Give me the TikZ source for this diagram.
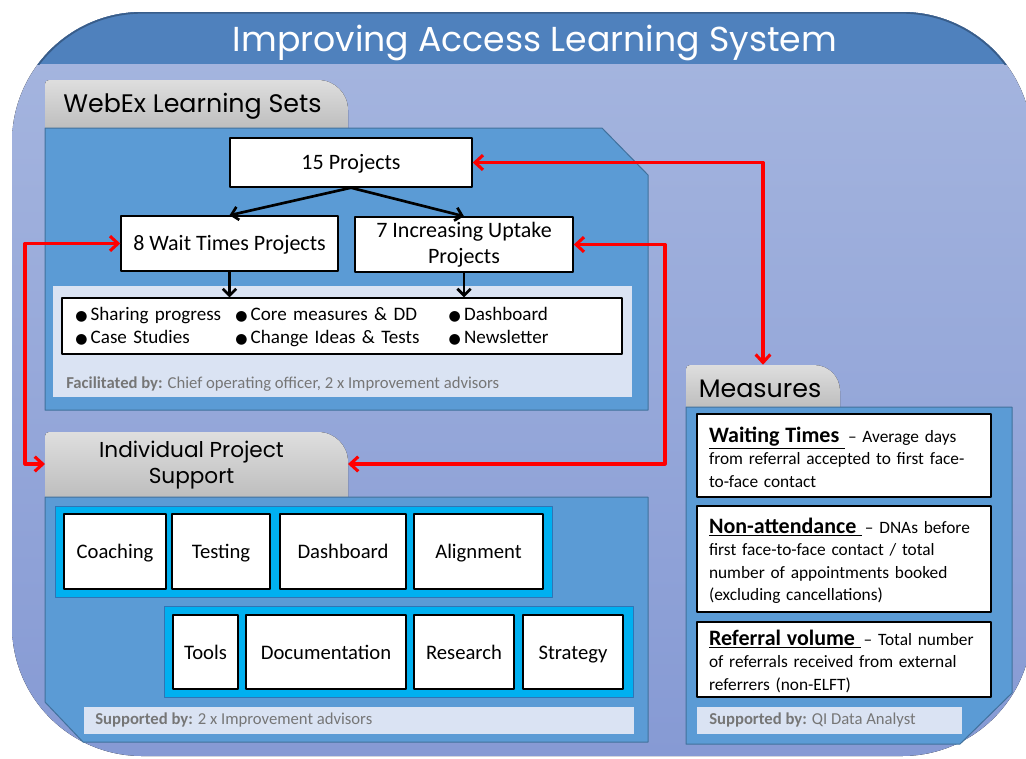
\documentclass[tikz,border=0pt]{standalone}
\usepackage{fontspec}
\setmainfont{Carlito}
\newfontfamily\headfont{Poppins}
\newfontfamily\symfont{DejaVu Sans}
\usetikzlibrary{arrows.meta}
\definecolor{titleblue}{RGB}{79,129,189}
\definecolor{edgeblue}{RGB}{56,93,138}
\definecolor{bgtop}{RGB}{166,182,223}
\definecolor{bgbot}{RGB}{134,154,212}
\definecolor{panelblue}{RGB}{91,155,213}
\definecolor{paneledge}{RGB}{65,113,156}
\definecolor{tabtop}{RGB}{222,222,222}
\definecolor{tabbot}{RGB}{190,190,190}
\definecolor{lightbox}{RGB}{218,227,243}
\definecolor{cyanfill}{RGB}{0,176,240}
\definecolor{cyanedge}{RGB}{46,117,182}
\definecolor{notegrey}{RGB}{118,118,118}
\definecolor{linkred}{RGB}{255,0,0}
\newcommand{\blt}{{\symfont\fontsize{10.5}{12}\selectfont ●}\,}
\begin{document}
\begin{tikzpicture}[x=0.75pt,y=-0.75pt,line join=round,
  geom/.style n args={4}{minimum width={((#3)-(#1))*0.75pt},minimum height={((#4)-(#2))*0.75pt},at={({((#1)+(#3))/2},{((#2)+(#4))/2})}},
  panel/.style={fill=panelblue,draw=paneledge,line width=0.75pt},
  tabshape/.style={top color=tabtop,bottom color=tabbot,draw=none},
  tabtext/.style={draw=none,inner sep=0pt,font=\headfont\fontsize{19}{25}\selectfont,text=black,align=center},
  wbox/.style={fill=white,draw=black,line width=1.1pt,inner sep=0pt},
  cbox/.style={fill=cyanfill,draw=cyanedge,line width=0.6pt,inner sep=0pt},
  lbox/.style={fill=lightbox,draw=none,inner sep=0pt},
  note/.style={font=\fontsize{12.5}{15}\selectfont,text=notegrey,anchor=west,inner sep=0pt},
  topfont/.style={font=\fontsize{16.5}{19.5}\selectfont},
  oneline/.style={text height=13pt,text depth=2pt},
  ifont/.style={font=\fontsize{15.5}{18}\selectfont,text height=12.5pt,text depth=2pt},
  mfont/.style={font=\fontsize{13}{16.9}\selectfont,text width=202.5pt,align=left},
  redlink/.style={draw=linkred,line width=2.3pt,arrows={Straight Barb[length=6pt,width=11pt]-Straight Barb[length=6pt,width=11pt]}},
  blklink/.style={draw=black,line width=2pt,arrows={-Straight Barb[length=5pt,width=10pt]}}]
\useasboundingbox (0,0) rectangle (1026,758);
\clip (0,0) rectangle (1026,758);
\fill[white] (0,0) rectangle (1026,758);
% outer frame
\fill[top color=bgtop,bottom color=bgbot,rounded corners=97.5pt] (12,12) rectangle (1032,756);
\begin{scope}
  \clip[rounded corners=97.5pt] (12,12) rectangle (1032,756);
  \fill[titleblue] (0,0) rectangle (1040,64);
  \begin{scope}
    \clip (0,0) rectangle (1040,64);
    \draw[edgeblue,line width=2.5pt,rounded corners=97.5pt] (12,12) rectangle (1032,756);
  \end{scope}
\end{scope}
\node[font=\headfont\fontsize{26}{30}\selectfont,text=white] (title) at (535,43) {Improving Access Learning System};
% tabs
\fill[tabshape] (45,128) -- (45,84) .. controls (45,81.8) and (46.8,80) .. (49,80) -- (318,80) .. controls (334.6,80) and (348,93.4) .. (348,110) -- (348,128) -- cycle;
\fill[tabshape] (45,497) -- (45,436) .. controls (45,433.8) and (46.8,432) .. (49,432) -- (318,432) .. controls (334.6,432) and (348,445.4) .. (348,462) -- (348,497) -- cycle;
\fill[tabshape] (686,407) -- (686,369) .. controls (686,366.8) and (687.8,365) .. (690,365) -- (814,365) .. controls (828.4,365) and (840,376.6) .. (840,391) -- (840,407) -- cycle;
\node[tabtext,geom={45}{84}{340}{128}] (webtab) {WebEx Learning Sets};
\node[tabtext,font=\headfont\fontsize{16.2}{19.5}\selectfont,geom={40}{432}{343}{499}] (ipstab) {Individual Project\\Support};
\node[tabtext,geom={686}{371}{834}{407}] (mtabtext) {Measures};
\node[draw=none,inner sep=0pt,geom={686}{365}{840}{407}] (mtab) {};
\coordinate (ipsw) at (45,464);
\coordinate (ipse) at (348,464);
% panels
\filldraw[panel] (45,128) -- (602,128) -- (648,175) -- (648,410) -- (45,410) -- cycle;
\filldraw[panel] (45,497) -- (648,497) -- (648,742) -- (83,742) -- (45,702) -- cycle;
\filldraw[panel] (686,407) -- (1012,407) -- (1012,693) -- (960,744) -- (686,744) -- cycle;
% WebEx learning sets
\node[lbox,geom={53}{286}{632}{397}] (facbox) {};
\node[note] (fac) at (66,384) {\textbf{Facilitated by:} Chief operating officer, 2 x Improvement advisors};
\node[wbox,topfont,oneline,geom={230}{138}{472}{187}] (p15) {15 Projects};
\node[wbox,topfont,oneline,geom={121}{216}{338}{271}] (wait) {8 Wait Times Projects};
\node[wbox,topfont,align=center,geom={355}{217}{573}{272}] (incr) {7 Increasing Uptake\\Projects};
\node[wbox,geom={62}{298}{622}{354},text width=400pt,align=left,font=\fontsize{14.3}{17.2}\selectfont] (blist) {\begin{tabular}{@{}p{120pt}@{}p{160pt}@{}l@{}}
\rule{0pt}{13.5pt}\blt Sharing progress & \blt Core measures \& DD & \blt Dashboard\\
\blt Case Studies & \blt Change Ideas \& Tests & \blt Newsletter
\end{tabular}};
\draw[blklink] (p15.south) -- (wait.north);
\draw[blklink] (p15.south) -- (incr.north);
\draw[blklink] (wait.south) -- (wait.south |- blist.north);
\draw[blklink] (incr.south) -- (incr.south |- blist.north);
% Individual project support
\node[cbox,geom={55}{506}{552}{597}] (row1) {};
\node[wbox,ifont,geom={64}{514}{166}{589}] (coach) {Coaching};
\node[wbox,ifont,geom={172}{514}{270}{589}] (test) {Testing};
\node[wbox,ifont,geom={280}{514}{406}{589}] (dash) {Dashboard};
\node[wbox,ifont,geom={414}{514}{543}{589}] (align) {Alignment};
\node[cbox,geom={164}{606}{633}{697}] (row2) {};
\node[wbox,ifont,geom={173}{615}{238}{689}] (tools) {Tools};
\node[wbox,ifont,geom={246}{615}{406}{689}] (doc) {Documentation};
\node[wbox,ifont,geom={414}{615}{514}{689}] (res) {Research};
\node[wbox,ifont,geom={523}{615}{623}{689}] (strat) {Strategy};
\node[lbox,geom={84}{707}{634}{734}] (supbox) {};
\node[note] (sup) at (95,720) {\textbf{Supported by:} 2 x Improvement advisors};
% Measures
\node[wbox,mfont,geom={697}{414}{991}{497}] (m1) {\rule{0pt}{14pt}\underline{\fontsize{16.5}{16.9}\selectfont\textbf{Waiting Times}\ }\,-- Average days\\from referral accepted to first face-\\to-face contact};
\node[wbox,mfont,geom={697}{506}{991}{612}] (m2) {\rule{0pt}{14pt}\underline{\fontsize{16.5}{16.9}\selectfont\textbf{Non-attendance}\ }\,-- DNAs before\\first face-to-face contact / total\\number of appointments booked\\(excluding cancellations)};
\node[wbox,mfont,geom={697}{622}{991}{697}] (m3) {\rule{0pt}{14pt}\underline{\fontsize{16.5}{16.9}\selectfont\textbf{Referral volume}\ }\,-- Total number\\of referrals received from external\\referrers (non-ELFT)};
\node[lbox,geom={697}{707}{962}{734}] (msupbox) {};
\node[note] (msup) at (709,720) {\textbf{Supported by:} QI Data Analyst};
% red links
\coordinate (lc) at (25,243);
\coordinate (rc) at (665,243);
\draw[redlink] (wait.west) -- (wait.west -| lc) |- (ipsw);
\draw[redlink] (incr.east) -- (incr.east -| rc) |- (ipse);
\draw[redlink] (p15.east) -| (mtab.north);
\end{tikzpicture}
\end{document}
